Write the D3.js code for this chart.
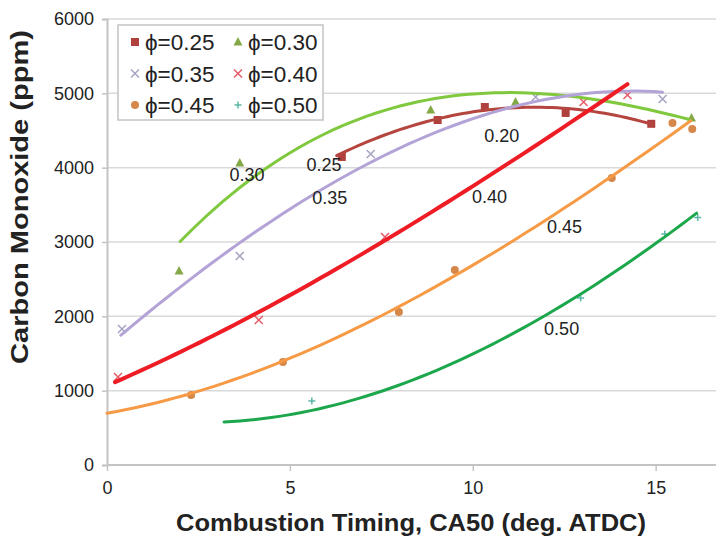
<!DOCTYPE html>
<html>
<head>
<meta charset="utf-8">
<script src="https://cdn.jsdelivr.net/npm/d3@7"></script>
<style>
  body { margin: 0; background: #fff; }
  text { font-family: Arial, "Liberation Sans", sans-serif; fill: #222; }
</style>
</head>
<body>
<div id="chart"></div>
<script>
// values
const series = ['0.25', '0.30', '0.35', '0.40', '0.45', '0.50'];

const pts025 = [[6.42, 4144], [9.04, 4641], [10.33, 4816], [12.54, 4736], [14.88, 4590]];
const pts030 = [[1.97, 2610], [3.63, 4063], [8.85, 4776], [11.17, 4884], [15.98, 4668]];
const pts035 = [[0.41, 1830], [3.63, 2812], [7.21, 4184], [11.72, 4951], [15.19, 4924]];
const pts040 = [[0.3, 1184], [4.15, 1951], [7.6, 3068], [13.03, 4884], [14.23, 4978]];
const pts045 = [[2.3, 942], [4.81, 1386], [7.98, 2058], [9.51, 2623], [13.8, 3861], [15.46, 4601], [16.0, 4520]];
const pts050 = [[5.6, 860], [12.95, 2247], [15.25, 3108], [16.15, 3330]];

// points
const fit025 = [[6.28, 4170], [7.46, 4400], [9.04, 4650], [10.4, 4800], [12.0, 4810], [13.3, 4740], [14.9, 4590]];
const fit030 = [[2.0, 2960], [3.6, 3800], [5.5, 4350], [8.0, 4750], [10.9, 5020], [13.1, 4975], [15.93, 4630]];
const fit035 = [[0.38, 1720], [2.2, 2530], [5.27, 3470], [7.46, 4144], [10.2, 4710], [12.9, 4980], [15.19, 5015]];
const fit040 = [[0.22, 1117], [4.2, 2060], [7.46, 3000], [10.2, 3800], [14.23, 5126]];
const fit045 = [[0, 700], [2.3, 955], [4.8, 1410], [8.0, 2085], [9.5, 2600], [13.8, 3860], [15.96, 4640]];
const fit050 = [[3.2, 580], [7.46, 980], [10.2, 1560], [12.9, 2250], [15.2, 3095], [16.12, 3365]];

const curveLabels = [
  ['0.30', 3.83, 3902], ['0.25', 5.93, 4036], ['0.35', 6.09, 3592], ['0.20', 10.79, 4426],
  ['0.40', 10.46, 3606], ['0.45', 12.51, 3202], ['0.50', 12.43, 1830]
];

const xTicks = [0, 5, 10, 15];
const yTicks = [0, 1000, 2000, 3000, 4000, 5000, 6000];

const styles = {
  '0.25': {pts: pts025, fit: fit025, marker: 'square', mcol: '#b0403d', lcol: '#b5453f', lw: 3},
  '0.30': {pts: pts030, fit: fit030, marker: 'triangle', mcol: '#84a846', lcol: '#80c83e', lw: 3},
  '0.35': {pts: pts035, fit: fit035, marker: 'cross', mcol: '#a4a4c2', lcol: '#b3a3d6', lw: 3},
  '0.40': {pts: pts040, fit: fit040, marker: 'cross', mcol: '#e65a68', lcol: '#ee1c25', lw: 4},
  '0.45': {pts: pts045, fit: fit045, marker: 'circle', mcol: '#d6874a', lcol: '#f79a45', lw: 3},
  '0.50': {pts: pts050, fit: fit050, marker: 'plus', mcol: '#5bb7a6', lcol: '#1ca74c', lw: 3}
};

const width = 718, height = 545;
const svg = d3.select('#chart').append('svg')
  .attr('width', width).attr('height', height);

const x = d3.scaleLinear().domain([0, 16.65]).range([107, 716]);
const y = d3.scaleLinear().domain([0, 6000]).range([465, 19]);

// least squares polynomial through the sampled trend points
function polyFit(p, deg) {
  const n = deg + 1;
  const M = d3.range(n).map(() => new Array(n + 1).fill(0));
  p.forEach(([a, b]) => {
    for (let i = 0; i < n; i++) {
      for (let j = 0; j < n; j++) M[i][j] += Math.pow(a, i + j);
      M[i][n] += b * Math.pow(a, i);
    }
  });
  for (let i = 0; i < n; i++) {
    for (let j = i + 1; j < n; j++) {
      const f = M[j][i] / M[i][i];
      for (let k = i; k <= n; k++) M[j][k] -= f * M[i][k];
    }
  }
  const c = new Array(n).fill(0);
  for (let i = n - 1; i >= 0; i--) {
    let v = M[i][n];
    for (let k = i + 1; k < n; k++) v -= M[i][k] * c[k];
    c[i] = v / M[i][i];
  }
  return v => c.reduce((acc, ck, k) => acc + ck * Math.pow(v, k), 0);
}

// grid
svg.append('g').selectAll('line').data(yTicks.slice(1)).join('line')
  .attr('x1', x(0)).attr('x2', x(16.65))
  .attr('y1', d => y(d)).attr('y2', d => y(d))
  .attr('stroke', '#d9d9d9').attr('stroke-width', 1.5);

// axes
const yAxis = svg.append('g').attr('transform', `translate(${x(0)},0)`)
  .call(d3.axisLeft(y).tickValues(yTicks).tickFormat(d3.format('d')).tickSize(5).tickPadding(8));
const xAxis = svg.append('g').attr('transform', `translate(0,${y(0)})`)
  .call(d3.axisBottom(x).tickValues(xTicks).tickSize(6).tickPadding(10));
[xAxis, yAxis].forEach(a => {
  a.select('.domain').attr('stroke', '#c4c4c4').attr('stroke-width', 2);
  a.selectAll('.tick line').attr('stroke', '#c4c4c4').attr('stroke-width', 1.5);
  a.selectAll('.tick text').attr('font-size', 18).attr('fill', '#222')
    .attr('font-family', 'Arial, "Liberation Sans", sans-serif');
});
xAxis.select('.domain').attr('d', `M${x(0)},0H${x(16.65)}`);

// titles
svg.append('text').attr('x', 411).attr('y', 531).attr('text-anchor', 'middle')
  .attr('font-size', 23).attr('font-weight', 'bold')
  .attr('textLength', 470).attr('lengthAdjust', 'spacingAndGlyphs')
  .text('Combustion Timing, CA50 (deg. ATDC)');
svg.append('text').attr('transform', 'translate(28,197) rotate(-90)').attr('text-anchor', 'middle')
  .attr('font-size', 23).attr('font-weight', 'bold')
  .attr('textLength', 334).attr('lengthAdjust', 'spacingAndGlyphs')
  .text('Carbon Monoxide (ppm)');

const line = d3.line().x(d => x(d[0])).y(d => y(d[1]));

function drawMarker(g, kind, cx, cy, col) {
  if (kind === 'square') {
    g.append('rect').attr('x', cx - 4).attr('y', cy - 4).attr('width', 8).attr('height', 8).attr('fill', col);
  } else if (kind === 'triangle') {
    g.append('path').attr('d', `M${cx},${cy - 5}L${cx + 4.5},${cy + 3.5}L${cx - 4.5},${cy + 3.5}Z`).attr('fill', col);
  } else if (kind === 'circle') {
    g.append('circle').attr('cx', cx).attr('cy', cy).attr('r', 4).attr('fill', col);
  } else if (kind === 'cross') {
    g.append('path').attr('d', `M${cx - 4},${cy - 4}L${cx + 4},${cy + 4}M${cx - 4},${cy + 4}L${cx + 4},${cy - 4}`)
      .attr('stroke', col).attr('stroke-width', 1.5);
  } else if (kind === 'plus') {
    g.append('path').attr('d', `M${cx - 3.5},${cy}H${cx + 3.5}M${cx},${cy - 3.5}V${cy + 3.5}`)
      .attr('stroke', col).attr('stroke-width', 1.5);
  }
}

// markers first, trend lines on top
const marks = svg.append('g');
series.forEach(s => {
  const st = styles[s];
  st.pts.forEach(p => drawMarker(marks, st.marker, x(p[0]), y(p[1]), st.mcol));
});
series.forEach(s => {
  const st = styles[s];
  const f = polyFit(st.fit, 3);
  const x0 = st.fit[0][0], x1 = st.fit[st.fit.length - 1][0];
  const curve = d3.range(0, 61).map(i => {
    const v = x0 + (x1 - x0) * i / 60;
    return [v, f(v)];
  });
  svg.append('path').datum(curve).attr('d', line)
    .attr('fill', 'none').attr('stroke', st.lcol).attr('stroke-width', st.lw)
    .attr('stroke-linecap', 'round');
});

// curve labels
svg.append('g').selectAll('text').data(curveLabels).join('text')
  .attr('x', d => x(d[1])).attr('y', d => y(d[2]) + 6).attr('text-anchor', 'middle')
  .attr('font-size', 18).text(d => d[0]);

// legend
const lg = svg.append('g');
lg.append('rect').attr('x', 118).attr('y', 25).attr('width', 205).attr('height', 95)
  .attr('fill', '#fff').attr('stroke', '#c4c4c4').attr('stroke-width', 1.5);
series.forEach((s, i) => {
  const col = i % 2, row = Math.floor(i / 2);
  const mx = col === 0 ? 135 : 238, ty = 42 + row * 31.5;
  drawMarker(lg, styles[s].marker, mx, ty, styles[s].mcol);
  lg.append('text').attr('x', mx + 10).attr('y', ty + 8).attr('font-size', 22.5)
    .text('\u03d5=' + s);
});
</script>
</body>
</html>
